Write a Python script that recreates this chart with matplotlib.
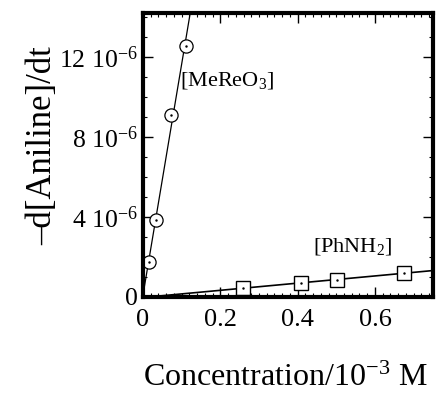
import matplotlib
matplotlib.use("Agg")
import matplotlib.pyplot as plt
import numpy as np
from matplotlib.ticker import MultipleLocator

plt.rcParams["font.family"] = ["Liberation Serif", "DejaVu Serif"]
plt.rcParams["mathtext.fontset"] = "custom"
plt.rcParams["mathtext.rm"] = "Liberation Serif"
plt.rcParams["mathtext.default"] = "regular"

# rate of aniline loss vs. concentration (10^-3 M)
mereo3_conc = [0.0155, 0.034, 0.072, 0.111]
mereo3_rate = [1.75e-6, 3.85e-6, 9.1e-6, 12.55e-6]

phnh2_conc = [0.258, 0.408, 0.501, 0.674]
phnh2_rate = [0.45e-6, 0.70e-6, 0.85e-6, 1.20e-6]

xtick_vals = [0, 0.2, 0.4, 0.6]
xtick_labels = ["0", "0.2", "0.4", "0.6"]
ytick_vals = [0, 4e-6, 8e-6, 12e-6]
ytick_labels = ["0", "4 10$^{-6}$", "8 10$^{-6}$", "12 10$^{-6}$"]

fig = plt.figure(figsize=(4.36, 3.97), dpi=100)
ax = fig.add_axes([0.328, 0.252, 0.665, 0.715])

# least-squares lines through each set
m1, b1 = np.polyfit(mereo3_conc, mereo3_rate, 1)
m2, b2 = np.polyfit(phnh2_conc, phnh2_rate, 1)
xx1 = np.array([-b1 / m1, 0.2])
xx2 = np.array([0.0, 0.8])
ax.plot(xx1, m1 * xx1 + b1, color="black", lw=0.9)
ax.plot(xx2, m2 * xx2 + b2, color="black", lw=1.2)

ax.plot(mereo3_conc, mereo3_rate, "o", ms=9.5, mfc="white", mec="black", mew=0.9)
ax.plot(phnh2_conc, phnh2_rate, "s", ms=10, mfc="white", mec="black", mew=1.0)
ax.plot(mereo3_conc + phnh2_conc, mereo3_rate + phnh2_rate, ".", color="black", ms=1.5)

ax.text(0.095, 10.85e-6, "[MeReO$_3$]", fontsize=16, va="center")
ax.text(0.44, 2.5e-6, "[PhNH$_2$]", fontsize=16, va="center")

ax.set_xlim(0, 0.75)
ax.set_ylim(0, 14.2e-6)

ax.set_xticks(xtick_vals)
ax.set_xticklabels(xtick_labels)
ax.xaxis.set_minor_locator(MultipleLocator(0.02))
ax.set_yticks(ytick_vals)
ax.set_yticklabels(ytick_labels)
ax.yaxis.set_minor_locator(MultipleLocator(1e-6))

ax.tick_params(which="both", direction="in", top=True, right=True)
ax.tick_params(which="major", length=7, width=1.0)
ax.tick_params(axis="x", which="major", pad=9, labelsize=19)
ax.tick_params(axis="y", which="major", pad=4, labelsize=18.5)
ax.tick_params(which="minor", length=3, width=0.8)

for s in ax.spines.values():
    s.set_linewidth(3)

ax.set_xlabel("Concentration/10$^{-3}$ M", fontsize=23)
ax.xaxis.set_label_coords(0.49, -0.337)
ax.xaxis.label.set_va("bottom")
ax.set_ylabel("–d[Aniline]/dt", fontsize=25)
ax.yaxis.set_label_coords(-0.29, 0.535)

fig.savefig("out.png", dpi=100)
